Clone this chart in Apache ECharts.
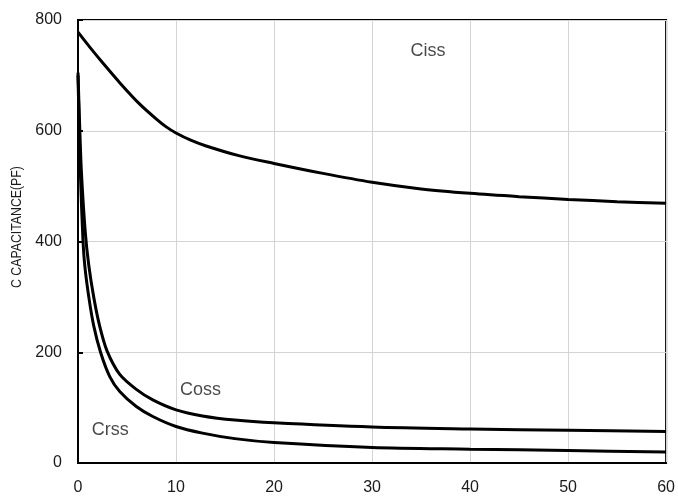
<!DOCTYPE html>
<html>
<head>
<meta charset="utf-8">
<script src="https://cdn.jsdelivr.net/npm/echarts@6/dist/echarts.min.js"></script>
<style>html,body{margin:0;padding:0;background:#fff;}#c{width:678px;height:496px;}</style>
</head>
<body>
<div id="c"></div>
<script>
var xTicks = [0, 10, 20, 30, 40, 50, 60];
var yTicks = [0, 200, 400, 600, 800];
var yAxisTitle = 'C CAPACITANCE(PF)';

var cissData = [[0,778],[1.2,751],[2.6,721],[4.3,686],[6.3,648],[8,621],[9,607],[10,596],[11.5,583],[13,573],[16.4,555],[20,541],[25,523],[30,507],[35,495],[40,487],[45,481],[50,476],[55,472],[60,469]];
var cossData = [[0,705],[0.15,620],[0.35,525],[0.75,415],[1.1,357],[1.6,300],[2.2,248],[2.95,203],[4.26,160],[5.95,133],[7.63,114],[10,96],[12.7,85],[16,77.5],[20,72.5],[30,65],[40,61.5],[50,59],[60,57]];
var crssData = [[0,700],[0.1,620],[0.25,520],[0.5,405],[0.7,355],[1.1,300],[1.6,248],[2.3,200],[3.24,156],[4.26,129],[5.95,102],[7.63,84],[10,66],[12.7,54],[16,44],[20,37],[30,28],[40,25],[50,22.5],[60,20]];

var curveLabels = [
  {name: 'Ciss', value: [35.7, 744]},
  {name: 'Coss', value: [12.5, 132]},
  {name: 'Crss', value: [3.3, 59]}
];

var chart = echarts.init(document.getElementById('c'));
function curve(name, data) {
  return {
    name: name, type: 'line', data: data, showSymbol: false, symbol: 'none',
    smooth: 0.3,
    lineStyle: {color: '#000', width: 3}, z: 3
  };
}
chart.setOption({
  animation: false,
  backgroundColor: '#fff',
  grid: {left: 78, right: 8, top: 20, bottom: 33, show: true, borderColor: '#000', borderWidth: 2, backgroundColor: 'transparent'},
  xAxis: {
    type: 'value', min: xTicks[0], max: xTicks[xTicks.length-1], interval: 10,
    axisLine: {lineStyle: {color: '#000', width: 2}},
    axisTick: {show: false},
    axisLabel: {color: '#1a1a1a', fontSize: 16, fontFamily: 'Liberation Sans', margin: 17},
    splitLine: {show: true, lineStyle: {color: '#d4d4d4', width: 1}}
  },
  yAxis: {
    type: 'value', min: yTicks[0], max: yTicks[yTicks.length-1], interval: 200,
    axisLine: {show: true, lineStyle: {color: '#000', width: 2}},
    axisTick: {show: true, inside: true, length: 5, lineStyle: {color: '#000', width: 2}},
    axisLabel: {color: '#1a1a1a', fontSize: 16, fontFamily: 'Liberation Sans', margin: 16},
    splitLine: {show: true, lineStyle: {color: '#d4d4d4', width: 1}}
  },
  graphic: [{
    type: 'text', x: 17, y: 227, rotation: Math.PI / 2, scaleX: 0.82,
    style: {text: yAxisTitle, fill: '#1a1a1a', font: '15px "Liberation Sans"', textAlign: 'center', textVerticalAlign: 'middle'}
  }],
  series: [
    curve('Ciss', cissData),
    curve('Coss', cossData),
    curve('Crss', crssData),
    {
      type: 'scatter', data: curveLabels, symbolSize: 0, z: 4,
      label: {show: true, position: 'inside', formatter: '{b}', color: '#1a1a1a', fontSize: 18, fontFamily: 'Liberation Sans', backgroundColor: '#fff', padding: [2, 2]}
    }
  ]
});
</script>
</body>
</html>
